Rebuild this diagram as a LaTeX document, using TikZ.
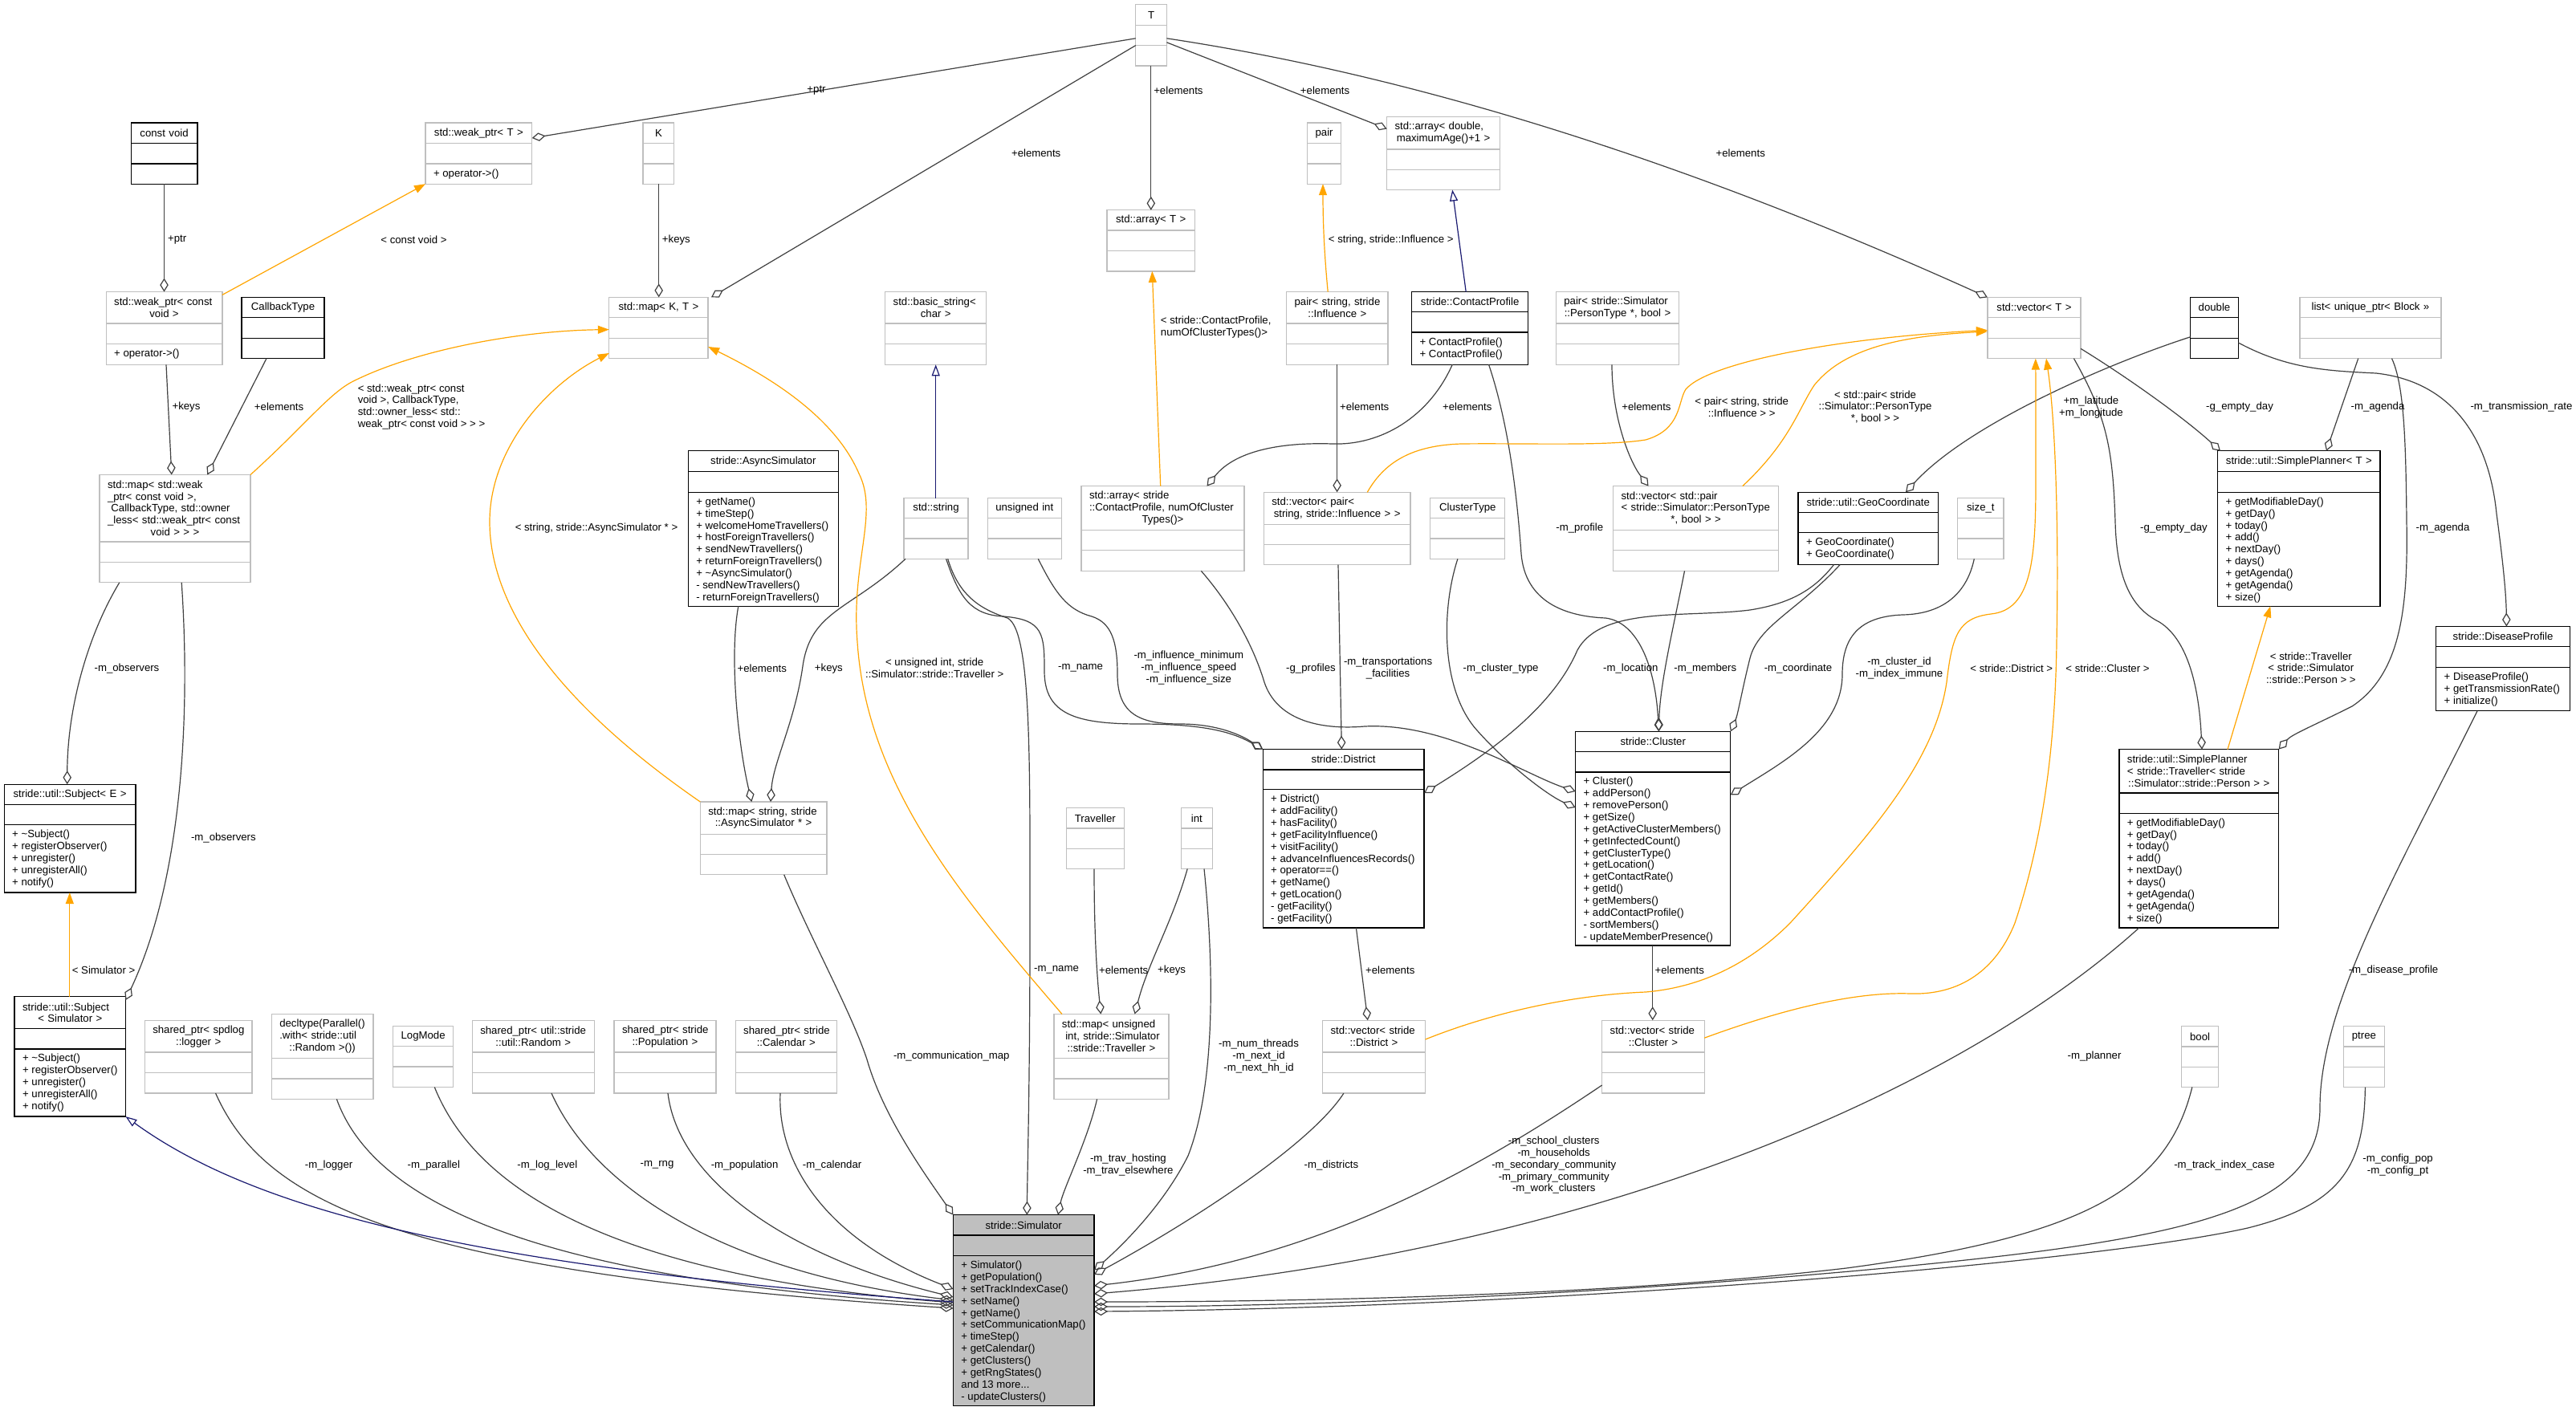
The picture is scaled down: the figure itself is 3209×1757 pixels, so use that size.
\documentclass[tikz,border=0pt]{standalone}
\usepackage{fontspec}
\setmainfont{Liberation Sans}
\usetikzlibrary{arrows.meta}
\definecolor{edgegray}{HTML}{404040}
\definecolor{boxgray}{HTML}{BFBFBF}
\definecolor{tmplorange}{HTML}{FFA500}
\definecolor{inhblue}{HTML}{191970}
\definecolor{simfill}{HTML}{BFBFBF}
\newcommand\ttl[1]{\mbox{#1}\\}
\newcommand\ttc[1]{\makebox[\hsize][c]{#1}}
\newcommand\ucls[9]{%
  \pgfmathsetmacro\uw{#5-#3}%
  \pgfmathsetmacro\uh{#6-#4}%
  \pgfmathsetmacro\utw{#5-#3-20}%
  \pgfmathsetmacro\ucx{(#3+#5)/2}%
  \pgfmathsetmacro\ucy{(#4+#7)/2}%
  \node[#2, minimum width=\uw bp, minimum height=\uh bp, anchor=north west] (#1) at (#3,#4) {};
  \draw[#2line] (#3,#7) -- (#5,#7) (#3,#8) -- (#5,#8);
  \node[text width=\utw bp, align=left] (#1-t) at (\ucx,\ucy) {#9};
  \expandafter\xdef\csname ux@#1\endcsname{#3}%
  \expandafter\xdef\csname ud@#1\endcsname{#8}%
}
\newcommand\umeth[2]{%
  \pgfmathsetmacro\umx{\csname ux@#1\endcsname+10}%
  \pgfmathsetmacro\umy{\csname ud@#1\endcsname+6.5}%
  \node[anchor=north west, align=left] (#1-m) at (\umx,\umy) {#2};
}
\begin{document}
\begin{tikzpicture}[x=1bp, y=-1bp,
  every node/.style={font=\fontsize{13.2bp}{14.85bp}\selectfont, inner sep=0pt, outer sep=0pt},
  clsg/.style={draw=boxgray, fill=white, line width=1.3bp},
  clsgline/.style={draw=boxgray, line width=1.3bp},
  clsb/.style={draw=black, fill=white, line width=1.3bp},
  clsbline/.style={draw=black, line width=1.3bp},
  clss/.style={draw=black, fill=simfill, line width=1.3bp},
  clssline/.style={draw=black, line width=1.3bp},
  agg/.style={draw=edgegray, line width=1.2bp, -{Diamond[open, length=17bp, width=10.5bp]}},
  inh/.style={draw=inhblue, line width=1.2bp, -{Triangle[open, length=14bp, width=10bp]}},
  tmpl/.style={draw=tmplorange, line width=1.2bp, -{Triangle[length=14bp, width=10bp]}},
  lbl/.style={align=center}]
\useasboundingbox (0,0) rectangle (3209,1757);
\fill[white] (0,0) rectangle (3209,1757);

% ---------- classes ----------
\ucls{cvoid}{clsb}{163.2}{153.1}{245.9}{229.2}{178.3}{204.0}{\ttc{const void}}
\ucls{wpT}{clsg}{530}{153.1}{662.7}{229.2}{178.3}{204.0}{\ttc{std::weak\_ptr< T >}}
\umeth{wpT}{+ operator->()}
\ucls{Tn}{clsg}{1414.7}{5.7}{1453.4}{81.9}{31.4}{56.6}{\ttc{T}}
\ucls{Kn}{clsg}{801}{153.1}{839.8}{229.2}{178.3}{204.0}{\ttc{K}}
\ucls{pairn}{clsg}{1628.4}{153.1}{1670.8}{229.2}{178.3}{204.0}{\ttc{pair}}
\ucls{arrD}{clsg}{1727.6}{145.8}{1868.6}{236.5}{186}{211.3}{\ttl{std::array< double,}\ttc{maximumAge()+1 >}}
\ucls{mapKT}{clsg}{758.8}{370.4}{882.1}{446.6}{395.7}{421.3}{\ttc{std::map< K, T >}}
\ucls{arrT}{clsg}{1379}{261.8}{1488.5}{337.9}{287}{312.7}{\ttc{std::array< T >}}
\ucls{bstr}{clsg}{1102.7}{363.6}{1228.7}{454.3}{403}{428.6}{\ttl{std::basic\_string<}\ttc{char >}}
\ucls{pairSI}{clsg}{1602.6}{363.6}{1729.1}{454.3}{403}{428.6}{\ttl{pair< string, stride}\ttc{::Influence >}}
\ucls{cprof}{clsb}{1758.6}{363.6}{1903.7}{454.3}{388.8}{414.1}{\ttc{stride::ContactProfile}}
\umeth{cprof}{+ ContactProfile()\\+ ContactProfile()}
\ucls{pairPT}{clsg}{1938.3}{363.6}{2091.7}{454.3}{403}{428.6}{\ttl{pair< stride::Simulator}\ttc{::PersonType *, bool >}}
\ucls{vecT}{clsg}{2475.9}{370.4}{2592.1}{446.6}{395.7}{421.3}{\ttc{std::vector< T >}}
\ucls{dbl}{clsb}{2728.5}{370.4}{2788.4}{446.6}{395.7}{421.3}{\ttc{double}}
\ucls{lst}{clsg}{2864.9}{370.4}{3041}{446.6}{395.7}{421.3}{\ttc{list< unique\_ptr< Block >>}}
\ucls{wpcv}{clsg}{132.2}{363.6}{276.9}{454.3}{403}{428.6}{\ttl{std::weak\_ptr< const}\ttc{void >}}
\umeth{wpcv}{+ operator->()}
\ucls{cbt}{clsb}{301.1}{370.4}{403.9}{446.6}{395.7}{421.3}{\ttc{CallbackType}}
\ucls{mapW}{clsg}{124}{591.5}{312}{725.8}{674.9}{700.5}{\ttl{std::map< std::weak}\ttl{\_ptr< const void >,}\ttl{ CallbackType, std::owner}\ttl{\_less< std::weak\_ptr< const}\ttc{void > > >}}
\ucls{subjE}{clsb}{5.2}{977.2}{168.9}{1112}{1002.5}{1027.8}{\ttc{stride::util::Subject< E >}}
\umeth{subjE}{+ \textasciitilde Subject()\\+ registerObserver()\\+ unregister()\\+ unregisterAll()\\+ notify()}
\ucls{async}{clsb}{857.3}{561.8}{1044.3}{755.3}{587.7}{613.3}{\ttc{stride::AsyncSimulator}}
\umeth{async}{+ getName()\\+ timeStep()\\+ welcomeHomeTravellers()\\+ hostForeignTravellers()\\+ sendNewTravellers()\\+ returnForeignTravellers()\\+ \textasciitilde AsyncSimulator()\\- sendNewTravellers()\\- returnForeignTravellers()}
\ucls{str}{clsg}{1126}{620.6}{1206}{696.3}{645.8}{671.1}{\ttc{std::string}}
\ucls{uint}{clsg}{1230.3}{620.6}{1322.2}{696.3}{645.8}{671.1}{\ttc{unsigned int}}
\ucls{arrCP}{clsg}{1347}{605.6}{1550}{711.3}{660.4}{685.6}{\ttl{std::array< stride}\ttl{::ContactProfile, numOfCluster}\ttc{Types()>}}
\ucls{vecPSI}{clsg}{1574.3}{613.3}{1757}{703.6}{653.5}{678.7}{\ttl{std::vector< pair<}\ttc{string, stride::Influence > >}}
\ucls{ctype}{clsg}{1781.8}{620.6}{1874.8}{696.3}{645.8}{671.1}{\ttc{ClusterType}}
\ucls{vecPT}{clsg}{2009.6}{605.6}{2215.7}{711.3}{660.4}{685.6}{\ttl{std::vector< std::pair}\ttl{< stride::Simulator::PersonType}\ttc{*, bool > >}}
\ucls{geo}{clsb}{2240}{613.3}{2414.4}{703.6}{638.6}{663.8}{\ttc{stride::util::GeoCoordinate}}
\umeth{geo}{+ GeoCoordinate()\\+ GeoCoordinate()}
\ucls{sizet}{clsg}{2438.7}{620.6}{2496}{696.3}{645.8}{671.1}{\ttc{size\_t}}
\ucls{spT}{clsb}{2762.6}{561.8}{2965.1}{755.3}{587.7}{613.3}{\ttc{stride::util::SimplePlanner< T >}}
\umeth{spT}{+ getModifiableDay()\\+ getDay()\\+ today()\\+ add()\\+ nextDay()\\+ days()\\+ getAgenda()\\+ getAgenda()\\+ size()}
\ucls{dprof}{clsb}{3034.7}{780.5}{3201.3}{885.8}{805.8}{831.4}{\ttc{stride::DiseaseProfile}}
\umeth{dprof}{+ DiseaseProfile()\\+ getTransmissionRate()\\+ initialize()}
\ucls{mapSA}{clsg}{872.3}{999}{1029.9}{1089.8}{1039.2}{1064.5}{\ttl{std::map< string, stride}\ttc{::AsyncSimulator * >}}
\ucls{trav}{clsg}{1328.4}{1006.7}{1400.2}{1082.5}{1032}{1057.2}{\ttc{Traveller}}
\ucls{intn}{clsg}{1471.5}{1006.7}{1510.2}{1082.5}{1032}{1057.2}{\ttc{int}}
\ucls{dist}{clsb}{1573.2}{933.6}{1774.1}{1156}{958.9}{983.7}{\ttc{stride::District}}
\umeth{dist}{+ District()\\+ addFacility()\\+ hasFacility()\\+ getFacilityInfluence()\\+ visitFacility()\\+ advanceInfluencesRecords()\\+ operator==()\\+ getName()\\+ getLocation()\\- getFacility()\\- getFacility()}
\ucls{clus}{clsb}{1962.6}{911.4}{2155.8}{1177.9}{936.7}{961.9}{\ttc{stride::Cluster}}
\umeth{clus}{+ Cluster()\\+ addPerson()\\+ removePerson()\\+ getSize()\\+ getActiveClusterMembers()\\+ getInfectedCount()\\+ getClusterType()\\+ getLocation()\\+ getContactRate()\\+ getId()\\+ getMembers()\\+ addContactProfile()\\- sortMembers()\\- updateMemberPresence()}
\ucls{spTr}{clsb}{2639.9}{933.6}{2838.6}{1156}{988}{1013.2}{\ttl{stride::util::SimplePlanner}\ttl{< stride::Traveller< stride}\ttc{::Simulator::stride::Person > >}}
\umeth{spTr}{+ getModifiableDay()\\+ getDay()\\+ today()\\+ add()\\+ nextDay()\\+ days()\\+ getAgenda()\\+ getAgenda()\\+ size()}
\ucls{subjS}{clsb}{18.1}{1241.8}{156.5}{1391.1}{1281.8}{1306.9}{\ttl{stride::util::Subject}\ttc{< Simulator >}}
\umeth{subjS}{+ \textasciitilde Subject()\\+ registerObserver()\\+ unregister()\\+ unregisterAll()\\+ notify()}
\ucls{spLog}{clsg}{180.3}{1271.2}{314}{1362.1}{1311.1}{1336.2}{\ttl{shared\_ptr< spdlog}\ttc{::logger >}}
\ucls{dcl}{clsg}{338.3}{1263.5}{464.9}{1369.4}{1318.4}{1343.9}{\ttl{decltype(Parallel()}\ttl{.with< stride::util}\ttc{::Random >())}}
\ucls{logm}{clsg}{489.7}{1278.4}{564.6}{1354.5}{1303.5}{1329}{\ttc{LogMode}}
\ucls{spRnd}{clsg}{588.3}{1271.2}{740.2}{1362.1}{1311.1}{1336.2}{\ttl{shared\_ptr< util::stride}\ttc{::util::Random >}}
\ucls{spPop}{clsg}{765}{1271.2}{891.9}{1362.1}{1311.1}{1336.2}{\ttl{shared\_ptr< stride}\ttc{::Population >}}
\ucls{spCal}{clsg}{916.2}{1271.2}{1042.3}{1362.1}{1311.1}{1336.2}{\ttl{shared\_ptr< stride}\ttc{::Calendar >}}
\ucls{mapUT}{clsg}{1312.9}{1263.5}{1456}{1369.4}{1318.4}{1343.9}{\ttl{std::map< unsigned}\ttl{ int, stride::Simulator}\ttc{::stride::Traveller >}}
\ucls{sim}{clss}{1187.4}{1513.6}{1363}{1751.2}{1539.1}{1564.6}{\ttc{stride::Simulator}}
\umeth{sim}{+ Simulator()\\+ getPopulation()\\+ setTrackIndexCase()\\+ setName()\\+ getName()\\+ setCommunicationMap()\\+ timeStep()\\+ getCalendar()\\+ getClusters()\\+ getRngStates()\\and 13 more...\\- updateClusters()}
\ucls{vecD}{clsg}{1647.5}{1271.2}{1775.6}{1362.1}{1311.1}{1336.2}{\ttl{std::vector< stride}\ttc{::District >}}
\ucls{vecC}{clsg}{1995.7}{1271.2}{2123.2}{1362.1}{1311.1}{1336.2}{\ttl{std::vector< stride}\ttc{::Cluster >}}
\ucls{booln}{clsg}{2717.3}{1278.8}{2763.8}{1354.5}{1303.9}{1329.3}{\ttc{bool}}
\ucls{ptree}{clsg}{2919.6}{1278.8}{2970.2}{1354.5}{1303.9}{1329.3}{\ttc{ptree}}

% ---------- aggregation edges ----------
\draw[agg] (cvoid.south -| 204.5,0) -- (wpcv.north -| 204.5,0);
\draw[agg] (Tn.west |- 0,47.8) -- (wpT.east |- 0,172);
\draw[agg] (Tn.west |- 0,56.6) -- (mapKT.north -| 886,0);
\draw[agg] (Tn.south -| 1433.8,0) -- (arrT.north -| 1433.8,0);
\draw[agg] (Tn.east |- 0,52.8) -- (arrD.west |- 0,160.5);
\draw[agg] (Tn.east |- 0,47.8) .. controls (1793,99) and (2136,217) .. (vecT.north west);
\draw[agg] (Kn.south -| 820.7,0) -- (mapKT.north -| 820.7,0);
\draw[agg] (wpcv.south -| 207,0) -- (mapW.north -| 213.8,0);
\draw[agg] (cbt.south -| 332,0) -- (mapW.north -| 258.3,0);
\draw[agg] (mapW.south -| 148.8,0) .. controls (110,790) and (84,880) .. (subjE.north -| 83.7,0);
\draw[agg] (mapW.south -| 226.2,0) .. controls (238,900) and (225,1100) .. (subjS.east |- 0,1246);
\draw[agg] (async.south -| 919.8,0) .. controls (908,820) and (920,930) .. (mapSA.north -| 936.4,0);
\draw[agg] (str.south -| 1128,0) .. controls (1060,760) and (1010,760) .. (1000,830) .. controls (990,900) and (963,950) .. (mapSA.north -| 960,0);
\draw[agg] (str.south -| 1178.6,0) .. controls (1195,745) and (1210,766) .. (1250,768) .. controls (1300,772) and (1301,790) .. (1301,836) .. controls (1301,890) and (1340,902) .. (1420,902) .. controls (1500,902) and (1535,912) .. (dist.north west);
\draw[agg] (str.south -| 1180.7,0) .. controls (1195,745) and (1225,760) .. (1255,770) .. controls (1285,785) and (1283,950) .. (1283,1150) .. controls (1283,1350) and (1280,1450) .. (sim.north -| 1279.3,0);
\draw[agg] (uint.south -| 1293.3,0) .. controls (1315,740) and (1330,760) .. (1360,768) .. controls (1385,776) and (1392,800) .. (1392,840) .. controls (1392,890) and (1420,902) .. (1470,902) .. controls (1515,902) and (1545,915) .. (dist.north west);
\draw[agg] (arrCP.south -| 1496.3,0) .. controls (1530,750) and (1560,800) .. (1575,850) .. controls (1590,895) and (1640,910) .. (1700,905) .. controls (1800,900) and (1900,965) .. (clus.west |- 0,986);
\draw[agg] (cprof.south -| 1809.2,0) .. controls (1780,520) and (1720,555) .. (1660,553) .. controls (1600,551) and (1540,560) .. (arrCP.north -| 1503.5,0);
\draw[agg] (cprof.south -| 1854.6,0) .. controls (1880,530) and (1890,620) .. (1895,690) .. controls (1900,750) and (1950,768) .. (2000,770) .. controls (2040,775) and (2062,830) .. (clus.north -| 2066.4,0);
\draw[agg] (pairSI.south -| 1665.6,0) -- (vecPSI.north -| 1665.6,0);
\draw[agg] (pairPT.south -| 2008,0) .. controls (2008,520) and (2030,575) .. (vecPT.north -| 2053.5,0);
\draw[agg] (vecPSI.south -| 1667,0) -- (dist.north -| 1671.3,0);
\draw[agg] (ctype.south -| 1815.9,0) .. controls (1795,760) and (1795,860) .. (1840,910) .. controls (1880,955) and (1930,992) .. (clus.west |- 0,1006);
\draw[agg] (vecPT.south -| 2098.5,0) .. controls (2085,780) and (2068,850) .. (clus.north -| 2066.4,0);
\draw[agg] (geo.south -| 2284.4,0) .. controls (2260,735) and (2230,752) .. (2180,760) .. controls (2100,770) and (1995,755) .. (1965,810) .. controls (1935,880) and (1860,935) .. (dist.east |- 0,988);
\draw[agg] (geo.south -| 2292.1,0) .. controls (2240,760) and (2190,780) .. (2180,820) .. controls (2170,860) and (2165,890) .. (clus.north east);
\draw[agg] (dbl.west |- 0,419.8) .. controls (2620,455) and (2450,530) .. (geo.north -| 2374,0);
\draw[agg] (sizet.south -| 2459.3,0) .. controls (2450,740) and (2420,765) .. (2370,766) .. controls (2320,768) and (2295,790) .. (2295,840) .. controls (2295,910) and (2220,950) .. (clus.east |- 0,990.3);
\draw[agg] (vecT.east |- 0,434.4) .. controls (2650,470) and (2720,520) .. (spT.north -| 2766,0);
\draw[agg] (vecT.south -| 2583.4,0) .. controls (2625,520) and (2632,560) .. (2635,650) .. controls (2637,730) and (2660,760) .. (2690,775) .. controls (2730,800) and (2740,870) .. (spTr.north -| 2743,0);
\draw[agg] (lst.south -| 2937.7,0) -- (spT.north -| 2898,0);
\draw[agg] (lst.south -| 2979.5,0) .. controls (2995,480) and (2997,550) .. (2998,650) .. controls (3000,760) and (2990,840) .. (2930,880) .. controls (2880,905) and (2855,915) .. (spTr.north east);
\draw[agg] (dbl.east |- 0,427) .. controls (2850,460) and (2900,462) .. (2960,465) .. controls (3050,475) and (3100,540) .. (3110,640) .. controls (3118,700) and (3122,740) .. (dprof.north -| 3122.4,0);
\draw[agg] (dist.south -| 1689.4,0) -- (vecD.north -| 1703.8,0);
\draw[agg] (clus.south -| 2058.7,0) -- (vecC.north -| 2058.7,0);
\draw[agg] (mapSA.south -| 976.7,0) .. controls (1010,1170) and (1060,1260) .. (1080,1320) .. controls (1100,1390) and (1150,1460) .. (sim.north west);
\draw[agg] (trav.south -| 1363,0) .. controls (1363,1180) and (1368,1230) .. (mapUT.north -| 1371.3,0);
\draw[agg] (intn.south -| 1479.2,0) .. controls (1460,1150) and (1430,1200) .. (mapUT.north -| 1413.6,0);
\draw[agg] (intn.south -| 1500,0) .. controls (1512,1200) and (1515,1350) .. (1480,1440) .. controls (1450,1500) and (1400,1550) .. (sim.east |- 0,1582.5);
\draw[agg] (mapUT.south -| 1366.6,0) .. controls (1355,1420) and (1325,1480) .. (sim.north -| 1318,0);
\draw[agg] (vecD.south -| 1673.9,0) .. controls (1630,1430) and (1470,1530) .. (sim.east |- 0,1588);
\draw[agg] (vecC.west |- 0,1352) .. controls (1850,1450) and (1650,1570) .. (sim.east |- 0,1602);
\draw[agg] (spTr.south -| 2664.7,0) .. controls (2450,1350) and (2000,1560) .. (sim.east |- 0,1612);
\draw[agg] (booln.south -| 2730.8,0) .. controls (2700,1480) and (2600,1540) .. (2300,1580) .. controls (2000,1615) and (1600,1622) .. (sim.east |- 0,1622);
\draw[agg] (dprof.south -| 3086,0) .. controls (2990,1080) and (2890,1250) .. (2890,1380) .. controls (2890,1500) and (2750,1540) .. (2400,1575) .. controls (2100,1605) and (1700,1628) .. (sim.east |- 0,1628);
\draw[agg] (ptree.south -| 2946.4,0) .. controls (2945,1450) and (2920,1500) .. (2800,1530) .. controls (2600,1575) and (1900,1630) .. (sim.east |- 0,1634);
\draw[agg] (spCal.south -| 972,0) .. controls (968,1450) and (1030,1545) .. (sim.west |- 0,1606);
\draw[agg] (spPop.south -| 832,0) .. controls (845,1470) and (980,1565) .. (sim.west |- 0,1616);
\draw[agg] (spRnd.south -| 687,0) .. controls (740,1480) and (900,1585) .. (sim.west |- 0,1620);
\draw[agg] (logm.south -| 541.3,0) .. controls (600,1500) and (800,1592) .. (sim.west |- 0,1623);
\draw[agg] (dcl.south -| 419.4,0) .. controls (470,1510) and (700,1595) .. (sim.west |- 0,1626);
\draw[agg] (spLog.south -| 268.6,0) .. controls (330,1500) and (500,1585) .. (sim.west |- 0,1630);

% ---------- inheritance ----------
\draw[inh] (sim.west |- 0,1622) .. controls (600,1580) and (320,1510) .. (subjS.south east);
\draw[inh] (cprof.north -| 1826.2,0) -- (arrD.south -| 1809.2,0);
\draw[inh] (str.north -| 1165.7,0) -- (bstr.south -| 1165.7,0);

% ---------- template instances ----------
\draw[tmpl] (wpcv.east |- 0,367.4) -- (wpT.south west);
\draw[tmpl] (mapW.north east) .. controls (380,530) and (410,490) .. (440,475) .. controls (520,435) and (650,412) .. (mapKT.west |- 0,410.6);
\draw[tmpl] (mapSA.north west) .. controls (700,880) and (610,760) .. (610,650) .. controls (610,560) and (680,480) .. (mapKT.west |- 0,440);
\draw[tmpl] (mapUT.north -| 1323,0) .. controls (1200,1120) and (1080,980) .. (1068,800) .. controls (1060,700) and (1095,640) .. (1070,590) .. controls (1040,520) and (960,470) .. (mapKT.east |- 0,432);
\draw[tmpl] (pairSI.north -| 1654.2,0) .. controls (1650,320) and (1648,280) .. (pairn.south -| 1648,0);
\draw[tmpl] (arrCP.north -| 1445.7,0) -- (arrT.south -| 1435.3,0);
\draw[tmpl] (vecPSI.north -| 1703.3,0) .. controls (1725,575) and (1760,555) .. (1820,553) .. controls (1900,552) and (2000,556) .. (2050,548) .. controls (2095,535) and (2090,500) .. (2100,485) .. controls (2130,450) and (2300,420) .. (vecT.west |- 0,411.4);
\draw[tmpl] (vecPT.north -| 2170.8,0) .. controls (2230,550) and (2240,510) .. (2260,480) .. controls (2300,430) and (2380,418) .. (vecT.west |- 0,413);
\draw[tmpl] (vecD.east |- 0,1295) .. controls (1850,1265) and (1950,1240) .. (2050,1236) .. controls (2120,1230) and (2180,1200) .. (2230,1150) .. controls (2330,1040) and (2410,950) .. (2425,850) .. controls (2432,790) and (2440,770) .. (2480,765) .. controls (2530,760) and (2536,700) .. (2536,600) .. controls (2536,540) and (2536,500) .. (vecT.south -| 2535.8,0);
\draw[tmpl] (vecC.east |- 0,1293.2) .. controls (2200,1265) and (2300,1235) .. (2380,1238) .. controls (2450,1240) and (2490,1200) .. (2510,1150) .. controls (2540,1060) and (2560,950) .. (2562,800) .. controls (2565,650) and (2560,520) .. (vecT.south -| 2549,0);
\draw[tmpl] (spTr.north -| 2775,0) -- (spT.south -| 2828.3,0);
\draw[tmpl] (subjS.north -| 86.8,0) -- (subjE.south -| 86.8,0);

% ---------- labels ----------
\node[lbl] (L1) at (220.6,298.9) {+ptr};
\node[lbl] (L2) at (515.5,298.9) {< const void >};
\node[lbl, align=left] (L3) at (525,507) {< std::weak\_ptr< const\\void >, CallbackType,\\std::owner\_less< std::\\weak\_ptr< const void > > >};
\node[lbl] (L4) at (232,507) {+keys};
\node[lbl] (L5) at (347.6,507) {+elements};
\node[lbl] (L6) at (1017,112.9) {+ptr};
\node[lbl] (L7) at (1290.7,190.6) {+elements};
\node[lbl] (L8) at (1467.9,112.9) {+elements};
\node[lbl] (L9) at (842.4,298.9) {+keys};
\node[lbl, align=left] (L10) at (1514.7,407.6) {< stride::ContactProfile,\\numOfClusterTypes()>};
\node[lbl] (L11) at (1650.6,112.9) {+elements};
\node[lbl] (L12) at (2168.2,190.6) {+elements};
\node[lbl] (L13) at (1732.7,298.9) {< string, stride::Influence >};
\node[lbl] (L14) at (1699.7,507) {+elements};
\node[lbl] (L15) at (1827.8,507) {+elements};
\node[lbl] (L16) at (2050.9,507) {+elements};
\node[lbl] (L17) at (2169.7,507.2) {< pair< string, stride\\::Influence > >};
\node[lbl] (L18) at (2336,507) {< std::pair< stride\\::Simulator::PersonType\\*, bool > >};
\node[lbl] (L19) at (2605,507.2) {+m\_latitude\\+m\_longitude};
\node[lbl] (L20) at (2790,507) {-g\_empty\_day};
\node[lbl] (L21) at (2962,507) {-m\_agenda};
\node[lbl] (L22) at (3141,507) {-m\_transmission\_rate};
\node[lbl] (L23) at (158,832.6) {-m\_observers};
\node[lbl] (L24) at (278.4,1043.8) {-m\_observers};
\node[lbl] (L25) at (743,657.7) {< string, stride::AsyncSimulator * >};
\node[lbl] (L26) at (949.3,832.6) {+elements};
\node[lbl] (L27) at (1032.4,832.6) {+keys};
\node[lbl] (L28) at (1164.2,832.4) {< unsigned int, stride\\::Simulator::stride::Traveller >};
\node[lbl] (L29) at (1346,832.6) {-m\_name};
\node[lbl] (L30) at (1480.8,832.2) {-m\_influence\_minimum\\-m\_influence\_speed\\-m\_influence\_size};
\node[lbl] (L31) at (1633,832.6) {-g\_profiles};
\node[lbl] (L32) at (1729.1,832.4) {-m\_transportations\\\_facilities};
\node[lbl] (L33) at (1869.6,832.6) {-m\_cluster\_type};
\node[lbl] (L34) at (1967.8,657.7) {-m\_profile};
\node[lbl] (L35) at (2031.3,832.6) {-m\_location};
\node[lbl] (L36) at (2124.3,832.6) {-m\_members};
\node[lbl] (L37) at (2240,832.6) {-m\_coordinate};
\node[lbl] (L38) at (2366,832.4) {-m\_cluster\_id\\-m\_index\_immune};
\node[lbl] (L39) at (2708,657.7) {-g\_empty\_day};
\node[lbl] (L40) at (3043,657.7) {-m\_agenda};
\node[lbl] (L41) at (2505.8,832.6) {< stride::District >};
\node[lbl] (L42) at (2625.5,832.6) {< stride::Cluster >};
\node[lbl] (L43) at (2878.8,832.2) {< stride::Traveller\\< stride::Simulator\\::stride::Person > >};
\node[lbl] (L44) at (129.1,1208.7) {< Simulator >};
\node[lbl] (L45) at (409.6,1451.6) {-m\_logger};
\node[lbl] (L46) at (540.3,1451.6) {-m\_parallel};
\node[lbl] (L47) at (681.8,1451.6) {-m\_log\_level};
\node[lbl] (L48) at (818.5,1451.6) {-m\_rng};
\node[lbl] (L49) at (927.6,1451.6) {-m\_population};
\node[lbl] (L50) at (1036.6,1451.6) {-m\_calendar};
\node[lbl] (L51) at (1185.3,1315.7) {-m\_communication\_map};
\node[lbl] (L52) at (1316,1208.7) {-m\_name};
\node[lbl] (L53) at (1399.7,1208.7) {+elements};
\node[lbl] (L54) at (1459.6,1208.7) {+keys};
\node[lbl] (L55) at (1568,1315.7) {-m\_num\_threads\\-m\_next\_id\\-m\_next\_hh\_id};
\node[lbl] (L56) at (1405.4,1451.6) {-m\_trav\_hosting\\-m\_trav\_elsewhere};
\node[lbl] (L57) at (1731.7,1208.7) {+elements};
\node[lbl] (L58) at (2092.3,1208.7) {+elements};
\node[lbl] (L59) at (1658.4,1451.6) {-m\_districts};
\node[lbl] (L60) at (1935.7,1451.7) {-m\_school\_clusters\\-m\_households\\-m\_secondary\_community\\-m\_primary\_community\\-m\_work\_clusters};
\node[lbl] (L61) at (2981.5,1208.7) {-m\_disease\_profile};
\node[lbl] (L62) at (2609,1315.7) {-m\_planner};
\node[lbl] (L63) at (2771,1451.6) {-m\_track\_index\_case};
\node[lbl] (L64) at (2987,1451.6) {-m\_config\_pop\\-m\_config\_pt};
\end{tikzpicture}
\end{document}
